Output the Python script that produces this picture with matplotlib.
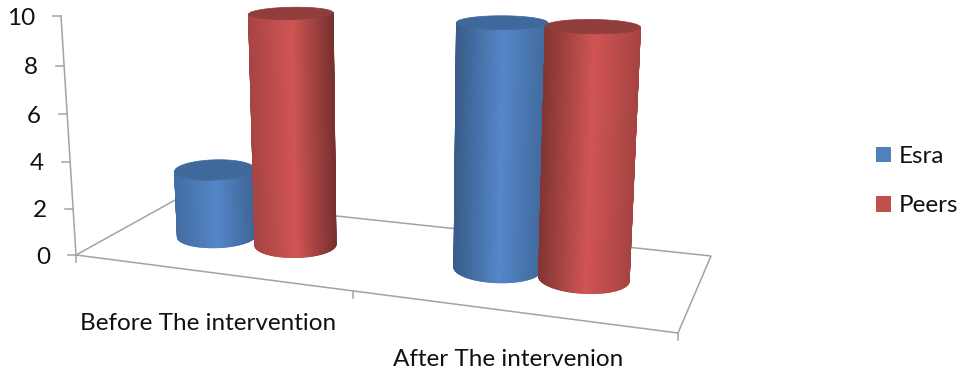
import numpy as np
import matplotlib
matplotlib.use('Agg')
import matplotlib.pyplot as plt
from matplotlib.collections import PolyCollection
from matplotlib.patches import Patch

# chart data
categories = ['Before The intervention', 'After The intervenion']
series_names = ['Esra', 'Peers']
esra = [3, 10]
peers = [10, 10]
y_ticks = [0, 2, 4, 6, 8, 10]

# colours: left edge factor, right edge factor per cylinder
base_colors = {'Esra': '#5487C9', 'Peers': '#D05553'}
top_colors = {'Esra': '#40699B', 'Peers': '#8F3E3D'}
legend_colors = {'Esra': '#4F81BD', 'Peers': '#C0504D'}
edge_shades = [(0.80, 0.74), (0.80, 0.58), (0.68, 0.78), (0.62, 0.80)]
AXIS_COLOR = '#A3A3A3'
TEXT_COLOR = '#111111'
FONT_SIZE = 17.5

# camera: floor corners in pixels, then where vertical lines converge
FLOOR_PX = np.array([[76, 255], [678, 333], [711, 256], [177, 199]], dtype=float)
FLOOR_UV = np.array([[0, 0], [1, 0], [1, 1], [0, 1]], dtype=float)
VANISH = np.array([400.0, 5417.0, 1.0])
K = -0.004425

# cylinder layout on the floor (0..1 along category axis, 0..1 in depth)
GROUP_X = [0.254, 0.758]
SERIES_OFFSET = [0.076, 0.070]
DEPTH = 0.5
RADIUS_X = 0.070
RADIUS_D = 0.19
HEIGHT_SCALE = 0.98
STRIPS = 120


def floor_matrix():
    rows, rhs = [], []
    for (u, v), (px, py) in zip(FLOOR_UV, FLOOR_PX):
        rows.append([u, v, 1, 0, 0, 0, -u * px, -v * px])
        rhs.append(px)
        rows.append([0, 0, 0, u, v, 1, -u * py, -v * py])
        rhs.append(py)
    h = np.linalg.solve(np.array(rows), np.array(rhs))
    return np.append(h, 1.0).reshape(3, 3)


H = floor_matrix()


def project(x, d, z):
    x, d, z = np.broadcast_arrays(x, d, z)
    pts = H @ np.vstack([x.ravel(), d.ravel(), np.ones(x.size)])
    pts = pts + np.outer(VANISH, K * z.ravel())
    return pts[0] / pts[2], pts[1] / pts[2]


def lerp_color(rgb, factor):
    return tuple(np.clip(np.array(rgb) * factor, 0, 1))


def front_arc(px):
    # indices from the leftmost to the rightmost point of a ring, through the front
    i0 = int(np.argmin(px[:-1]))
    i1 = int(np.argmax(px[:-1]))
    if i1 < i0:
        i1 += 360
    return np.round(np.linspace(i0, i1, STRIPS + 1)).astype(int) % 360


def draw_cylinder(ax, x0, d0, value, name, shades, zorder):
    t = np.linspace(0, 2 * np.pi, 361)
    cx = x0 + RADIUS_X * np.cos(t)
    cd = d0 + RADIUS_D * np.sin(t)
    bx, by = project(cx, cd, 0)
    tx, ty = project(cx, cd, value * HEIGHT_SCALE)

    b_idx = front_arc(bx)
    t_idx = front_arc(tx)
    left, right = bx[b_idx[0]], bx[b_idx[-1]]

    base = np.array(matplotlib.colors.to_rgb(base_colors[name]))
    polys, cols = [], []
    for n in range(STRIPS):
        a, b = b_idx[n], b_idx[n + 1]
        c, e = t_idx[n], t_idx[n + 1]
        polys.append([(bx[a], by[a]), (bx[b], by[b]), (tx[e], ty[e]), (tx[c], ty[c])])
        s = ((bx[a] + bx[b]) / 2 - left) / (right - left)
        if s < 0.52:
            f = shades[0] + (1 - shades[0]) * (s / 0.52)
        else:
            f = shades[1] + (1 - shades[1]) * ((1 - s) / 0.48)
        cols.append(lerp_color(base, f))
    ax.add_collection(PolyCollection(polys, facecolors=cols, edgecolors=cols,
                                     linewidths=0.8, zorder=zorder))
    ax.fill(tx, ty, color=top_colors[name], lw=0.5, zorder=zorder + 0.5)


fig = plt.figure(figsize=(9.62, 3.76), dpi=100)
ax = fig.add_axes([0, 0, 1, 1])
ax.set_xlim(0, 962)
ax.set_ylim(376, 0)
ax.axis('off')

# floor outline and value axis
fx, fy = project([0, 1, 1, 0, 0], [0, 0, 1, 1, 0], 0)
ax.plot(fx, fy, color=AXIS_COLOR, lw=1.1, zorder=1)
ax_x, ax_y = project([0, 0], [0, 0], [0, 10])
ax.plot(ax_x, ax_y, color=AXIS_COLOR, lw=1.1, zorder=1)

for v in y_ticks:
    px, py = project(0, 0, v)
    ax.plot([px[0] - 8, px[0]], [py[0], py[0]], color=AXIS_COLOR, lw=1.1, zorder=1)
    ax.text(px[0] - 26, py[0] + 2, str(v), ha='right', va='center', fontsize=FONT_SIZE,
            color=TEXT_COLOR, family='Lato')

for u in [0, 0.507, 1]:
    px, py = project(u, 0, 0)
    ax.plot([px[0], px[0]], [py[0], py[0] + 7], color=AXIS_COLOR, lw=1.1, zorder=1)

# cylinders, back to front
order = 2
for g, gx in enumerate(GROUP_X):
    off = SERIES_OFFSET[g]
    draw_cylinder(ax, gx - off, DEPTH, esra[g], 'Esra', edge_shades[2 * g], order)
    draw_cylinder(ax, gx + off, DEPTH, peers[g], 'Peers', edge_shades[2 * g + 1], order + 1)
    order += 2

ax.text(208.5, 323, categories[0], ha='center', va='center', fontsize=FONT_SIZE,
        color=TEXT_COLOR, family='Lato')
ax.text(508.5, 360, categories[1], ha='center', va='center', fontsize=FONT_SIZE,
        color=TEXT_COLOR, family='Lato')

handles = [Patch(facecolor=legend_colors[n], label=n) for n in series_names]
leg = ax.legend(handles=handles, loc='upper left', bbox_to_anchor=(876, 146),
                bbox_transform=ax.transData, frameon=False,
                handlelength=0.62, handleheight=0.62, handletextpad=0.33,
                labelspacing=1.16, borderpad=0, borderaxespad=0,
                prop={'family': 'Lato', 'size': FONT_SIZE})
for txt in leg.get_texts():
    txt.set_color(TEXT_COLOR)

fig.savefig('out.png', dpi=100)
